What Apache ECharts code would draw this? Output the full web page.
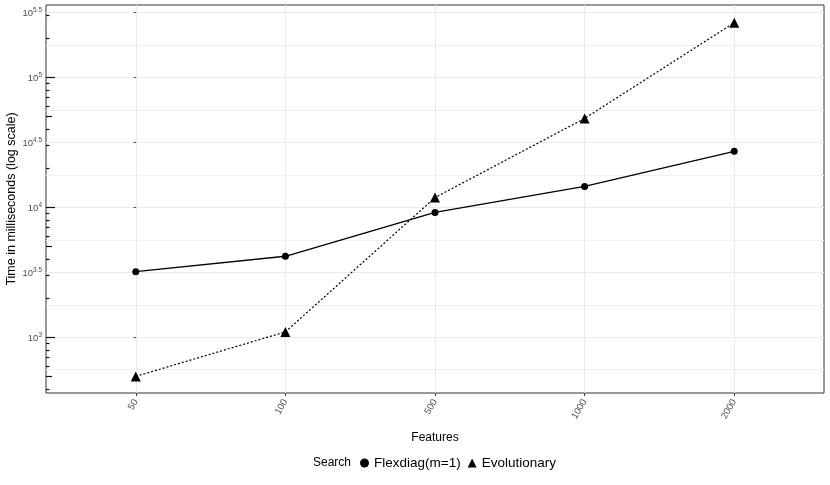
<!DOCTYPE html>
<html>
<head>
<meta charset="utf-8">
<script src="https://cdn.jsdelivr.net/npm/echarts@6/dist/echarts.min.js"></script>
<style>html,body{margin:0;padding:0;background:#fff}#c{width:830px;height:485px}</style>
</head>
<body>
<div id="c"></div>
<script>
// ---- data ----
var categories = ['50', '100', '500', '1000', '2000'];          // Features
var flexdiag = [3200, 4200, 9150, 14500, 27000];                 // ms
var evolutionary = [500, 1100, 11900, 48400, 264000];            // ms
var yLabelExponents = ['3', '3.5', '4', '4.5', '5', '5.5'];      // 10^x tick labels
var seriesNames = ['Flexdiag(m=1)', 'Evolutionary'];

// ---- build helpers ----
var yMin = 2.571, yMax = 5.558;
var majorVals = yLabelExponents.map(Number);
var minorVals = [2.75, 3.25, 3.75, 4.25, 4.75, 5.25];
var decadeTicks = [], fiveTicks = [], smallTicks = [];
for (var e = 2; e <= 5; e++) {
  for (var m = 1; m <= 9; m++) {
    var v = e + Math.log10(m);
    if (v < yMin || v > yMax) continue;
    if (m === 1) decadeTicks.push(v); else if (m === 5) fiveTicks.push(v); else smallTicks.push(v);
  }
}
function toXY(arr) { return arr.map(function (val, i) { return [i, Math.log10(val)]; }); }
var font = '"Liberation Sans", Arial, sans-serif';

function tickAxis(vals, len) {
  return {
    type: 'value', min: yMin, max: yMax, position: 'left',
    axisLine: { show: false }, axisLabel: { show: false }, splitLine: { show: false },
    axisTick: { show: true, inside: true, length: len, customValues: vals, lineStyle: { color: '#111', width: 1.2 } }
  };
}

var chart = echarts.init(document.getElementById('c'), null, { renderer: 'canvas' });
chart.setOption({
  animation: false,
  backgroundColor: '#ffffff',
  title: { text: 'Search', left: 308, top: 452, textStyle: { fontFamily: font, fontSize: 12, fontWeight: 'normal', color: '#000' } },
  legend: {
    left: 355, top: 451, itemWidth: 9, itemHeight: 9, itemGap: 7,
    textStyle: { fontFamily: font, fontSize: 13.5, color: '#000' },
    data: [{ name: seriesNames[0], icon: 'circle' }, { name: seriesNames[1], icon: 'triangle' }]
  },
  grid: { left: 46, right: 6, top: 5, bottom: 92, outerBoundsMode: 'none', containLabel: false,
          show: true, borderColor: '#333', borderWidth: 1, backgroundColor: 'transparent' },
  xAxis: {
    type: 'value', min: -0.6, max: 4.6,
    name: 'Features', nameLocation: 'middle', nameGap: 39, nameMoveOverlap: false,
    nameTextStyle: { fontFamily: font, fontSize: 12, color: '#000' },
    axisLine: { show: false },
    axisTick: { show: true, length: 3, customValues: [0, 1, 2, 3, 4], lineStyle: { color: '#333' } },
    axisLabel: {
      customValues: [0, 1, 2, 3, 4], rotate: 60, margin: 7,
      fontFamily: font, fontSize: 9.5, color: '#4d4d4d',
      formatter: function (v) { return categories[Math.round(v)]; }
    },
    splitLine: { show: true, lineStyle: { color: '#ebebeb', width: 1 } }
  },
  yAxis: [
    {
      type: 'value', min: yMin, max: yMax, position: 'left',
      name: 'Time in milliseconds (log scale)', nameLocation: 'middle', nameGap: 28, nameMoveOverlap: false,
      nameTextStyle: { fontFamily: font, fontSize: 12.5, color: '#000' },
      axisLine: { show: false },
      axisTick: { show: true, length: 2, customValues: majorVals, lineStyle: { color: '#333' } },
      axisLabel: {
        customValues: majorVals, margin: 4,
        formatter: function (v) {
          var s = yLabelExponents[majorVals.indexOf(Math.round(v * 2) / 2)];
          return '{b|10}{s|' + s + '}';
        },
        rich: {
          b: { fontFamily: font, fontSize: 9.5, color: '#4d4d4d', verticalAlign: 'bottom', lineHeight: 12 },
          s: { fontFamily: font, fontSize: 6.5, color: '#4d4d4d', verticalAlign: 'top', lineHeight: 12 }
        }
      },
      splitLine: { show: true, lineStyle: { color: '#ebebeb', width: 1 } }
    },
    {
      type: 'value', min: yMin, max: yMax, position: 'left',
      axisLine: { show: false }, axisLabel: { show: false },
      axisTick: { show: false, customValues: minorVals },
      splitLine: { show: true, lineStyle: { color: '#f0f0f0', width: 1 } }
    },
    tickAxis(decadeTicks, 9),
    tickAxis(fiveTicks, 6),
    tickAxis(smallTicks, 3.5)
  ],
  series: [
    {
      name: seriesNames[0], type: 'line', yAxisIndex: 0, data: toXY(flexdiag),
      symbol: 'circle', symbolSize: 7,
      lineStyle: { color: '#000', width: 1.4, type: 'solid' },
      itemStyle: { color: '#000' }
    },
    {
      name: seriesNames[1], type: 'line', yAxisIndex: 0, data: toXY(evolutionary),
      symbol: 'triangle', symbolSize: 10,
      lineStyle: { color: '#000', width: 1.2, type: [2, 2] },
      itemStyle: { color: '#000' }
    }
  ]
});
</script>
</body>
</html>
